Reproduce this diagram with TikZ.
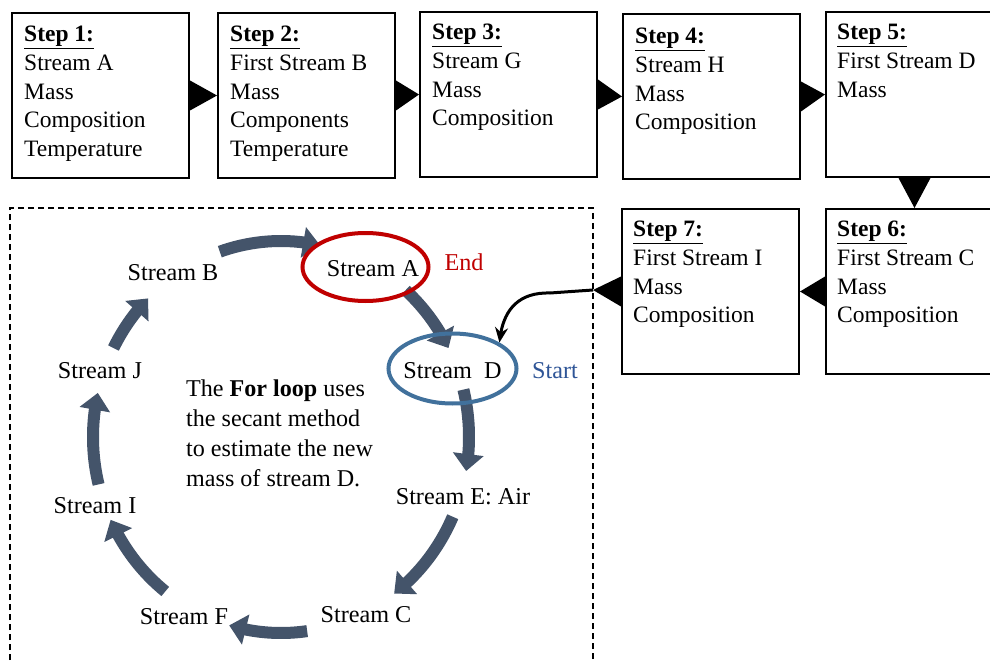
\documentclass[tikz,border=0pt]{standalone}
\usepackage{fontspec}
\setmainfont{Liberation Serif}
\usetikzlibrary{arrows.meta,shapes.geometric,calc,bending}
\definecolor{cycblue}{HTML}{44546A}
\definecolor{endred}{HTML}{C00000}
\definecolor{startblue}{HTML}{41719C}
\definecolor{starttext}{HTML}{2F5597}

% one arc of the loop, between two angles (degrees, counted as on the page)
\newcommand\looparc[2]{\draw[cyc] (O) ++({-#1}:188 and 196) arc[start angle={-#1}, end angle={-#2}, x radius=188, y radius=196];}

\begin{document}
\begin{tikzpicture}[x=1pt,y=-1pt,
  stepbox/.style={draw, line width=2pt, minimum width=177pt, minimum height=165pt, inner sep=0pt, anchor=north west},
  steptext/.style={anchor=north west, inner sep=0pt, align=left, font=\fontsize{23.5}{28.7}\selectfont},
  lbl/.style={anchor=base, inner sep=0pt, font=\fontsize{24.2}{28}\selectfont},
  cyc/.style={draw=cycblue, line width=12pt, -{Triangle[width=30pt,length=17pt]}},
  ring/.style={draw, ellipse, line width=4pt, inner sep=0pt},
  link/.style={fill=black}]

\fill[white] (0,0) rectangle (990,663);
\useasboundingbox (0,0) rectangle (990,663);

% ---- step boxes ----
\node[stepbox] (b1) at (11,12) {};
\node[stepbox] (b2) at (217,12) {};
\node[stepbox] (b3) at (419,11) {};
\node[stepbox] (b4) at (622,13) {};
\node[stepbox] (b5) at (825,11) {};
\node[stepbox] (b6) at (825,208) {};
\node[stepbox] (b7) at (621,208) {};

\node[steptext] (s1) at ($(b1.north west)+(13,14)$) {\underline{\textbf{Step 1:}}\\Stream A\\Mass\\Composition\\Temperature};
\node[steptext] (s2) at ($(b2.north west)+(13,14)$) {\underline{\textbf{Step 2:}}\\First Stream B\\Mass\\Components\\Temperature};
\node[steptext] (s3) at ($(b3.north west)+(13,13)$) {\underline{\textbf{Step 3:}}\\Stream G\\Mass\\Composition};
\node[steptext] (s4) at ($(b4.north west)+(13,15)$) {\underline{\textbf{Step 4:}}\\Stream H\\Mass\\Composition};
\node[steptext] (s5) at ($(b5.north west)+(12,13)$) {\underline{\textbf{Step 5:}}\\First Stream D\\Mass};
\node[steptext] (s6) at ($(b6.north west)+(12,13)$) {\underline{\textbf{Step 6:}}\\First Stream C\\Mass\\Composition};
\node[steptext] (s7) at ($(b7.north west)+(12,13)$) {\underline{\textbf{Step 7:}}\\First Stream I\\Mass\\Composition};

% ---- triangles between the boxes ----
\fill[link] ($(b1.east)+(0,-15)$) -- ($(b1.east)+(0,15)$) -- (b2.west) -- cycle;
\fill[link] ($(b2.east)+(0,-15)$) -- ($(b2.east)+(0,15)$) -- (b3.west) -- cycle;
\fill[link] ($(b3.east)+(0,-15)$) -- ($(b3.east)+(0,15)$) -- (b4.west) -- cycle;
\fill[link] ($(b4.east)+(0,-15)$) -- ($(b4.east)+(0,15)$) -- (b5.west) -- cycle;
\fill[link] ($(b5.south)+(-16,0)$) -- ($(b5.south)+(16,0)$) -- (b6.north) -- cycle;
\fill[link] ($(b6.west)+(0,-15)$) -- ($(b6.west)+(0,15)$) -- (b7.east) -- cycle;
\coordinate (t7) at (593,290);
\fill[link] ($(b7.west)+(0,-15)$) -- ($(b7.west)+(0,15)$) -- (t7) -- cycle;

% ---- dashed frame of the loop ----
\draw[line width=1.3pt, dash pattern=on 6pt off 4pt] (10,800) -- (10,208) -- (593,208) -- (593,800);

% ---- loop arcs ----
\coordinate (O) at (281,437);
\looparc{109}{78}
\looparc{48.5}{27}
\looparc{14}{-10}
\looparc{-24}{-53}
\looparc{-82}{-106}
\looparc{-128}{-155}
\looparc{194}{167}
\looparc{153}{135}

% ---- loop labels ----
\node[ring, draw=endred, minimum width=126pt, minimum height=68pt] (ea) at (365.5,267) {};
\node[ring, draw=startblue, minimum width=128pt, minimum height=70pt] (ed) at (452.5,368.5) {};

\node[lbl] (la) at (373,276) {Stream A};
\node[lbl, text=endred] (lend) at (464,270) {End};
\node[lbl] (lb) at (173,280) {Stream B};
\node[lbl] (ld) at (452.5,378) {Stream\ \ D};
\node[lbl, text=starttext] (lstart) at (555,378) {Start};
\node[lbl] (lj) at (100,378) {Stream J};
\node[lbl] (le) at (463,504) {Stream E: Air};
\node[lbl] (li) at (95,513) {Stream I};
\node[lbl] (lf) at (184,624) {Stream F};
\node[lbl] (lc) at (366,622) {Stream C};

\node[anchor=north west, inner sep=0pt, align=left, font=\fontsize{24.1}{30}\selectfont] (note) at (186,380)
  {The \textbf{For loop} uses\\the secant method\\to estimate the new\\mass of stream D.};

% ---- connector from step 7 into the loop ----
\draw[line width=3pt, -{Stealth[length=15pt,width=13pt]}] (t7) -- (550,293) .. controls (515,292) and (502,314) .. (ed.29);

\end{tikzpicture}
\end{document}
